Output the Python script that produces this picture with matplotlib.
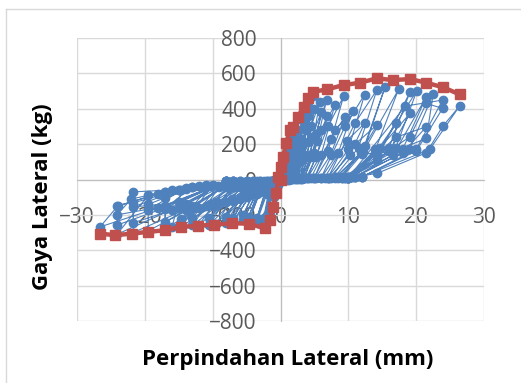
import numpy as np
import matplotlib
matplotlib.use('Agg')
from matplotlib import pyplot as plt
from matplotlib.lines import Line2D

plt.rcParams['font.family'] = ['Open Sans', 'DejaVu Sans']

# Envelope (red) - displacement (mm) / force (kg)
env_x = [-26.6, -24.4, -21.9, -19.5, -17.0, -14.6, -12.2, -9.8, -7.2, -4.7, -2.3,
         -1.5, -1.1, -0.6, -0.3, 0.0, 0.1, 0.4, 0.8, 1.4, 1.9, 2.6, 3.4, 4.1, 4.8,
         6.8, 9.3, 11.7, 14.2, 16.6, 19.1, 21.5, 24.0, 26.4]
env_y = [-306, -315, -306, -296, -287, -268, -262, -255, -248, -249, -277,
         -230, -155, -78, 15, 0, 72, 128, 204, 279, 298, 355, 411, 458, 496,
         509, 534, 547, 572, 562, 568, 547, 521, 481]

# Hysteresis cycles (blue), one list per cycle
cyc_x = [
    [0, 0.3, 0.5, 0.2, 0, -0.3, -0.6, -0.3, 0],
    [0, 0.6, 1.0, 0.5, 0, -0.6, -1.1, -0.5, 0],
    [0, 0.9, 1.5, 0.8, 0, -0.9, -1.5, -0.8, 0],
    [0, 1.2, 2.0, 1.3, 0.3, -1.0, -2.3, -1.2, -0.2],
    [0.3, 1.4, 2.0, 1.4, 0.5, -1.2, -2.0, -1.0, -0.2],
    [0.5, 1.8, 2.6, 1.8, 0.8, -1.5, -2.5, -1.5, -0.3],
    [0.6, 2.0, 2.6, 2.0, 1.0, -1.6, -2.5, -1.6, -0.3],
    [1.0, 2.4, 3.4, 2.4, 1.2, -2.0, -3.5, -2.0, -0.5],
    [1.2, 2.6, 3.4, 2.5, 1.4, -2.2, -3.5, -2.2, -0.5],
    [1.5, 3.0, 4.1, 3.0, 1.8, -3.0, -4.7, -3.0, -0.8],
    [1.7, 3.2, 4.1, 3.2, 2.0, -3.2, -4.7, -3.2, -0.8],
    [2.0, 3.8, 4.8, 3.6, 2.2, -3.5, -5.5, -3.5, -1.0],
    [2.3, 4.0, 5.0, 3.9, 2.5, -3.8, -5.5, -3.8, -1.0],
    [2.5, 4.5, 5.8, 4.4, 2.8, -4.0, -7.0, -4.5, -1.5],
    [2.8, 4.6, 6.0, 4.6, 3.0, -4.5, -7.0, -4.8, -1.5],
    [3.0, 5.2, 6.8, 5.0, 3.5, -5.0, -8.0, -5.0, -2.0],
    [3.2, 5.4, 6.9, 5.3, 3.8, -5.2, -8.0, -5.3, -2.0],
    [3.5, 6.0, 8.0, 6.0, 4.0, -6.0, -9.5, -6.0, -2.5],
    [4.0, 7.0, 9.3, 7.0, 5.0, -7.0, -10.5, -7.0, -3.0],
    [4.5, 7.4, 9.5, 7.4, 5.2, -7.2, -10.5, -7.2, -3.0],
    [5.0, 8.0, 10.7, 8.5, 6.0, -8.0, -12.0, -8.0, -3.5],
    [6.0, 9.5, 12.4, 10.0, 7.0, -9.0, -13.0, -9.0, -4.0],
    [6.5, 9.8, 12.4, 10.2, 7.2, -9.2, -13.0, -9.5, -4.0],
    [7.0, 11.0, 14.2, 11.5, 8.0, -10.0, -14.6, -10.0, -5.0],
    [7.5, 11.0, 14.2, 11.8, 8.2, -10.4, -14.6, -10.4, -5.0],
    [8.0, 12.0, 15.4, 12.5, 9.0, -11.0, -14.6, -16.0, -11.0, -6.0],
    [8.5, 12.2, 17.4, 14.0, 10.0, -12.0, -17.0, -17.0, -12.0, -6.0],
    [9.0, 12.0, 16.6, 17.1, 14.0, 10.0, -13.0, -17.0, -17.0, -13.0, -7.0],
    [9.0, 14.2, 19.1, 16.0, 10.0, -13.0, -19.5, -19.5, -13.0, -7.0],
    [9.5, 14.7, 19.1, 16.0, 10.5, -14.0, -19.5, -14.0, -7.0],
    [9.5, 14.2, 20.1, 17.0, 10.5, -14.0, -21.7, -21.7, -14.0, -7.0],
    [10.0, 16.6, 21.5, 18.0, 11.0, -15.0, -21.7, -21.7, -15.0, -8.0],
    [10.0, 17.1, 21.5, 18.0, 11.0, -15.0, -21.7, -15.0, -8.0],
    [10.0, 16.6, 21.5, 22.5, 19.0, 11.0, -16.0, -19.5, -24.1, -16.0, -8.0],
    [10.0, 18.4, 23.9, 20.0, 12.0, -17.0, -24.1, -24.1, -17.0, -8.0],
    [10.0, 19.1, 21.5, 23.9, 20.0, 12.0, -17.0, -22.0, -24.1, -17.0, -8.0],
    [10.0, 14.2, 21.5, 23.9, 26.4, 22.0, 12.0, -18.0, -24.0, -26.6, -18.0, -8.0, 0],
]
cyc_y = [
    [0, 40, 80, 20, 0, -30, -70, -20, 0],
    [0, 90, 150, 30, 0, -60, -150, -30, 0],
    [0, 120, 230, 40, 0, -90, -200, -40, 0],
    [0, 140, 280, 60, 0, -100, -260, -50, 0],
    [0, 120, 230, 50, 0, -80, -200, -40, 0],
    [0, 180, 340, 80, 5, -90, -250, -40, 0],
    [0, 150, 280, 70, 5, -80, -220, -40, 0],
    [0, 200, 390, 100, 5, -80, -240, -50, -5],
    [0, 160, 330, 90, 5, -70, -220, -60, -5],
    [5, 230, 440, 120, 10, -70, -240, -60, -5],
    [5, 190, 360, 110, 10, -60, -210, -70, -5],
    [5, 280, 470, 140, 10, -70, -230, -80, -5],
    [5, 210, 400, 130, 10, -60, -200, -70, -5],
    [5, 300, 440, 140, 10, -60, -240, -90, -10],
    [5, 240, 380, 130, 10, -50, -220, -80, -10],
    [5, 260, 450, 150, 10, -50, -245, -100, -10],
    [5, 220, 360, 130, 10, -45, -210, -90, -10],
    [10, 280, 420, 140, 10, -45, -250, -110, -10],
    [10, 300, 470, 160, 10, -45, -258, -120, -10],
    [10, 230, 355, 140, 10, -40, -220, -110, -10],
    [10, 280, 390, 150, 10, -45, -255, -130, -10],
    [10, 300, 480, 170, 10, -40, -260, -140, -10],
    [10, 220, 317, 140, 10, -35, -220, -130, -10],
    [10, 320, 506, 180, 15, -30, -265, -150, -10],
    [10, 200, 308, 150, 15, -35, -225, -140, -10],
    [10, 150, 521, 190, 15, -30, -60, -270, -150, -10],
    [10, 157, 509, 170, 15, -38, -102, -280, -160, -10],
    [10, 143, 157, 321, 150, 15, -40, -164, -240, -150, -10],
    [10, 113, 496, 180, 15, -45, -140, -290, -160, -10],
    [10, 180, 374, 160, 15, -50, -170, -140, -10],
    [10, 143, 502, 180, 15, -55, -70, -300, -170, -10],
    [10, 138, 468, 170, 15, -60, -132, -245, -160, -10],
    [10, 240, 298, 150, 15, -60, -155, -130, -10],
    [10, 157, 232, 481, 170, 15, -60, -89, -310, -170, -10],
    [10, 415, 449, 170, 15, -70, -150, -258, -160, -10],
    [10, 242, 430, 402, 160, 15, -70, -110, -200, -150, -10],
    [10, 34, 151, 300, 415, 170, 15, -80, -150, -268, -160, -10, 0],
]

blue_x = np.concatenate([np.array(c, dtype=float) for c in cyc_x])
blue_y = np.concatenate([np.array(c, dtype=float) for c in cyc_y])

fig = plt.figure(figsize=(5.21, 3.83), dpi=100)
ax = fig.add_axes([77 / 521, 1 - 321 / 383, (484 - 77) / 521, (321 - 38) / 383])

ax.plot(blue_x, blue_y, color='#4F81BD', lw=0.8, marker='o', ms=6, zorder=3)
ax.plot(env_x, env_y, color='#C0504D', lw=3.2, marker='s', ms=7, zorder=4)

ax.set_xlim(-30, 30)
ax.set_ylim(-800, 800)
ax.set_xticks(range(-30, 31, 10))
ax.set_yticks(range(-800, 801, 200))
ax.grid(True, color='#D9D9D9', lw=1)
ax.set_axisbelow(True)

for s in ['top', 'right']:
    ax.spines[s].set_visible(False)
ax.spines['left'].set_position(('data', 0))
ax.spines['bottom'].set_position(('data', 0))
ax.spines['left'].set_color('#BFBFBF')
ax.spines['bottom'].set_color('#BFBFBF')
ax.spines['left'].set_zorder(1)
ax.spines['bottom'].set_zorder(1)
ax.tick_params(length=0, labelsize=15, colors='#595959')
ax.tick_params(axis='x', pad=20)
ax.tick_params(axis='y', pad=17)

fig.text(288 / 521, 1 - 359 / 383, 'Perpindahan Lateral (mm)', ha='center', va='center',
         fontsize=16, fontweight='bold')
fig.text(43 / 521, 1 - 197 / 383, 'Gaya Lateral (kg)', ha='center', va='center',
         rotation=90, fontsize=16, fontweight='bold')

# chart area border
fig.add_artist(Line2D([6 / 521, 6 / 521], [0, 1 - 9 / 383], transform=fig.transFigure,
                      color='#D9D9D9', lw=1))
fig.add_artist(Line2D([6 / 521, 1], [1 - 9 / 383, 1 - 9 / 383], transform=fig.transFigure,
                      color='#D9D9D9', lw=1))

fig.savefig('out.png', dpi=100)
